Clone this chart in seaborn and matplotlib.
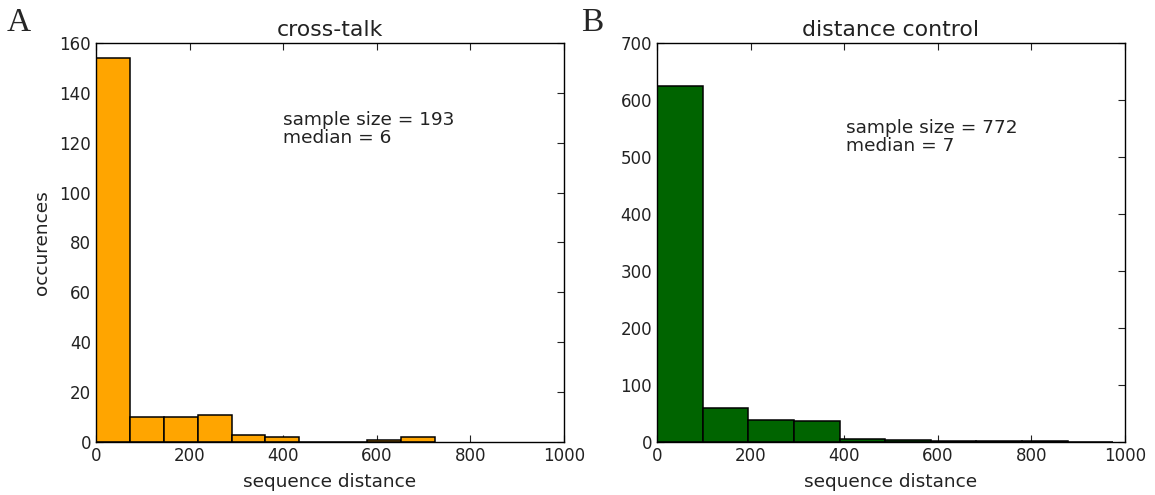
import numpy as np
import pandas as pd
import matplotlib
matplotlib.use("Agg")
import matplotlib.pyplot as plt
import seaborn as sns

# ---- data ----
left_edges = [0, 72.4, 144.8, 217.2, 289.6, 362.0, 434.4, 506.8, 579.2, 651.6, 724.0]
left_counts = [154, 10, 10, 11, 3, 2, 0, 0, 1, 2]
right_edges = [0, 97.5, 195.0, 292.5, 390.0, 487.5, 585.0, 682.5, 780.0, 877.5, 975.0]
right_counts = [624, 59, 39, 36, 6, 4, 2, 1, 1, 0]
left_title = "cross-talk"
right_title = "distance control"
left_note = "sample size = 193\nmedian = 6"
right_note = "sample size = 772\nmedian = 7"
x_ticks = [0, 200, 400, 600, 800, 1000]
left_yticks = [0, 20, 40, 60, 80, 100, 120, 140, 160]
right_yticks = [0, 100, 200, 300, 400, 500, 600, 700]

sns.set_style("ticks")
plt.rcParams.update({
    "font.family": ["DejaVu Sans"],
    "xtick.direction": "in",
    "ytick.direction": "in",
    "xtick.top": True,
    "ytick.right": True,
    "xtick.major.size": 5,
    "ytick.major.size": 5,
    "xtick.color": "#222222",
    "ytick.color": "#222222",
    "axes.edgecolor": "black",
    "axes.linewidth": 1.0,
})

fig = plt.figure(figsize=(11.55, 4.95), dpi=100)
ax1 = fig.add_axes([96 / 1155, 53 / 495, 468 / 1155, 399 / 495])
ax2 = fig.add_axes([657 / 1155, 53 / 495, 468 / 1155, 399 / 495])


def draw(ax, edges, counts, color, title, note, yticks, ymax, note_xy):
    e = np.asarray(edges)
    centers = (e[:-1] + e[1:]) / 2
    df = pd.DataFrame({"x": centers, "w": counts})
    sns.histplot(data=df, x="x", weights="w", bins=edges, color=color,
                 edgecolor="black", linewidth=1.1, alpha=1.0, ax=ax)
    ax.set_xlim(0, 1000)
    ax.set_ylim(0, ymax)
    ax.set_xticks(x_ticks)
    ax.set_yticks(yticks)
    ax.tick_params(labelsize=12, colors="#222222", labelcolor="#222222")
    for s in ax.spines.values():
        s.set_visible(True)
        s.set_color("black")
    ax.set_title(title, fontsize=15.8, color="#222222", pad=5)
    ax.set_xlabel("sequence distance", fontsize=13.3, color="#222222", labelpad=6)
    ax.set_ylabel("")
    ax.text(note_xy[0], note_xy[1], note, transform=ax.transAxes,
            fontsize=13.3, color="#222222", va="center", ha="left", linespacing=1.0)


draw(ax1, left_edges, left_counts, "#FFA500", left_title, left_note,
     left_yticks, 160, (0.40, 0.785))
draw(ax2, right_edges, right_counts, "#006400", right_title, right_note,
     right_yticks, 700, (0.404, 0.765))
ax1.set_ylabel("occurences", fontsize=13.3, color="#222222", labelpad=6)

fig.text(0.006, 0.985, "A", fontsize=24, va="top", ha="left",
         family=["Liberation Serif", "DejaVu Serif"])
fig.text(0.503, 0.985, "B", fontsize=24, va="top", ha="left",
         family=["Liberation Serif", "DejaVu Serif"])

fig.savefig("out.png", dpi=100)
